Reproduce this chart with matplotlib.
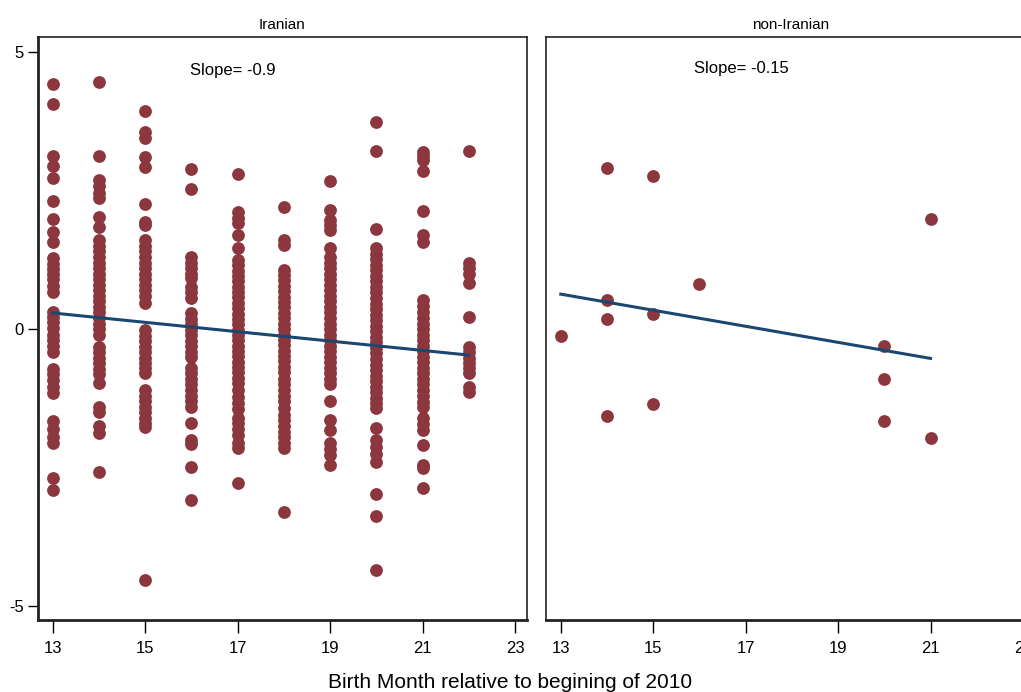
import matplotlib.pyplot as plt

plt.rcParams['font.family'] = ['Liberation Sans Narrow', 'Liberation Sans', 'DejaVu Sans']
plt.rcParams['axes.unicode_minus'] = False

# standardized outcome by birth month, Iranian sample
m13 = [4.42, 4.06, 3.12, 2.95, 2.73, 2.31, 1.99, 1.75, 1.57, 1.28, 1.18, 1.08, 1.0, 0.9,
       0.78, 0.67, 0.31, 0.22, 0.12, 0.02, -0.1, -0.2, -0.3, -0.42, -0.72, -0.82, -0.92,
       -1.05, -1.16, -1.66, -1.8, -1.95, -2.06, -2.68, -2.9]
m14 = [4.46, 3.12, 2.69, 2.58, 2.45, 2.36, 2.02, 1.84, 1.6, 1.5, 1.4, 1.3, 1.2, 1.1, 1.0,
       0.9, 0.8, 0.7, 0.6, 0.5, 0.4, 0.3, 0.2, 0.1, 0.0, -0.1, -0.32, -0.42, -0.52, -0.62,
       -0.72, -0.82, -0.97, -1.41, -1.5, -1.75, -1.88, -2.58]
m15 = [3.94, 3.56, 3.45, 3.1, 2.92, 2.26, 1.93, 1.88, 1.6, 1.5, 1.4, 1.3, 1.2, 1.1, 1.0,
       0.9, 0.8, 0.7, 0.6, 0.47, -0.02, -0.12, -0.22, -0.32, -0.42, -0.52, -0.62, -0.7,
       -0.79, -1.1, -1.2, -1.3, -1.4, -1.5, -1.6, -1.7, -1.77, -4.53]
m16 = [2.89, 2.53, 1.3, 1.2, 1.1, 1.0, 0.92, 0.76, 0.66, 0.56, 0.29, 0.19, 0.09, -0.01,
       -0.11, -0.21, -0.31, -0.41, -0.51, -0.7, -0.8, -0.9, -1.0, -1.1, -1.2, -1.3, -1.41,
       -1.7, -2.0, -2.08, -2.49, -3.09]
m17 = [2.8, 2.11, 2.0, 1.91, 1.7, 1.46, 1.25, 1.15, 1.05, 0.95, 0.86, 0.76, 0.66, 0.57,
       0.47, 0.38, 0.28, 0.18, 0.09, -0.01, -0.11, -0.2, -0.3, -0.4, -0.49, -0.59, -0.69,
       -0.78, -0.88, -0.98, -1.1, -1.23, -1.33, -1.45, -1.6, -1.7, -1.8, -1.92, -2.05,
       -2.15, -2.78]
m18 = [2.2, 1.6, 1.52, 1.07, 0.97, 0.88, 0.78, 0.68, 0.58, 0.49, 0.39, 0.29, 0.2, 0.1,
       0.0, -0.1, -0.2, -0.29, -0.39, -0.49, -0.58, -0.68, -0.78, -0.9, -1.0, -1.1, -1.2,
       -1.3, -1.42, -1.55, -1.65, -1.75, -1.85, -1.95, -2.05, -2.15, -3.3]
m19 = [2.67, 2.15, 1.97, 1.88, 1.79, 1.46, 1.3, 1.2, 1.1, 1.0, 0.9, 0.8, 0.7, 0.6, 0.5,
       0.4, 0.3, 0.2, 0.1, 0.0, -0.1, -0.2, -0.3, -0.4, -0.5, -0.6, -0.7, -0.8, -0.9, -1.0,
       -1.3, -1.64, -1.82, -2.06, -2.17, -2.27, -2.45]
m20 = [3.74, 3.21, 1.8, 1.46, 1.36, 1.26, 1.16, 1.06, 0.96, 0.86, 0.76, 0.66, 0.56, 0.46,
       0.36, 0.26, 0.16, 0.06, -0.04, -0.14, -0.24, -0.34, -0.44, -0.54, -0.64, -0.74,
       -0.84, -0.94, -1.04, -1.14, -1.24, -1.34, -1.43, -1.79, -2.0, -2.12, -2.25, -2.4,
       -2.98, -3.38, -4.35]
m21 = [3.2, 3.12, 3.05, 2.85, 2.13, 1.7, 1.57, 0.52, 0.42, 0.3, 0.2, 0.1, 0.0, -0.1, -0.2,
       -0.3, -0.4, -0.5, -0.6, -0.7, -0.8, -0.9, -1.0, -1.1, -1.2, -1.31, -1.41, -1.6,
       -1.72, -1.82, -2.09, -2.45, -2.5, -2.87]
m22 = [3.21, 1.2, 1.1, 1.0, 0.83, 0.22, -0.32, -0.42, -0.52, -0.62, -0.7, -0.79, -1.05,
       -1.14]

iran_months = [13, 14, 15, 16, 17, 18, 19, 20, 21, 22]
iran_groups = [m13, m14, m15, m16, m17, m18, m19, m20, m21, m22]

# non-Iranian sample
non_x = [14, 15, 21, 16, 14, 15, 14, 13, 20, 20, 15, 14, 20, 21]
non_y = [2.91, 2.77, 1.99, 0.82, 0.52, 0.28, 0.19, -0.13, -0.31, -0.90, -1.35, -1.57,
         -1.66, -1.97]

# fitted lines (endpoints)
iran_fit_x = [13, 22]
iran_fit_y = [0.29, -0.47]
non_fit_x = [13, 21]
non_fit_y = [0.63, -0.53]

xticks = [13, 15, 17, 19, 21, 23]
yticks = [-5, 0, 5]

dot_color = '#8c363e'
line_color = '#1a476f'

fig = plt.figure(figsize=(10.21, 6.92), dpi=100)
ax1 = fig.add_axes([38 / 1021, 1 - 620 / 692, 489 / 1021, 583 / 692])
ax2 = fig.add_axes([546 / 1021, 1 - 620 / 692, 489 / 1021, 583 / 692])

iran_x = []
iran_y = []
for m, vals in zip(iran_months, iran_groups):
    iran_x += [m] * len(vals)
    iran_y += vals

ax1.scatter(iran_x, iran_y, s=85, color=dot_color, linewidths=0, zorder=2)
ax1.plot(iran_fit_x, iran_fit_y, color=line_color, lw=2.2, zorder=3)
ax2.scatter(non_x, non_y, s=85, color=dot_color, linewidths=0, zorder=2)
ax2.plot(non_fit_x, non_fit_y, color=line_color, lw=2.2, zorder=3)

for ax, title in [(ax1, 'Iranian'), (ax2, 'non-Iranian')]:
    ax.set_xlim(12.68, 23.26)
    ax.set_ylim(-5.25, 5.27)
    ax.set_xticks(xticks)
    ax.set_yticks(yticks)
    ax.set_title(title, fontsize=11, pad=6)
    for sp in ax.spines.values():
        sp.set_linewidth(1.2)
        sp.set_color('#222222')
    ax.spines['bottom'].set_linewidth(2)
    ax.tick_params(axis='x', direction='out', length=9, width=1, pad=6, labelsize=12)
    ax.tick_params(axis='y', direction='out', length=7, width=1, pad=3, labelsize=12)

ax1.spines['left'].set_linewidth(2)
ax2.tick_params(axis='y', left=False, labelleft=False)

ax1.text(16.9, 4.67, 'Slope= -0.9', fontsize=12, ha='center', va='center')
ax2.text(16.9, 4.7, 'Slope= -0.15', fontsize=12, ha='center', va='center')

fig.text(0.5, 1 - 682 / 692, 'Birth Month relative to begining of 2010', fontsize=15,
         ha='center', va='center')

fig.savefig('out.png', dpi=100)
